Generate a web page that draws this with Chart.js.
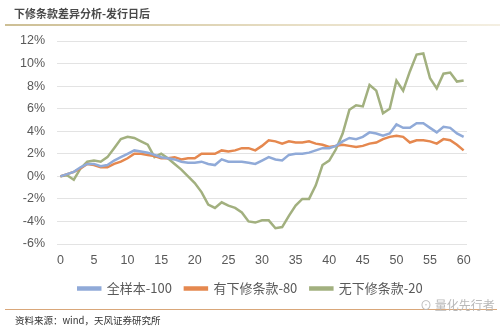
<!DOCTYPE html>
<html>
<head>
<meta charset="utf-8">
<script src="https://cdn.jsdelivr.net/npm/chart.js@4"></script>
<style>
  body { margin: 0; background: #fff; font-family: "Noto Sans CJK SC", sans-serif; }
  #wrap { position: relative; width: 500px; height: 328px; overflow: hidden; }
  #title { position: absolute; left: 14px; top: 5px; font-size: 11px; font-weight: bold; color: #4a4a4a; }
  #titleLine { position: absolute; left: 5px; top: 24px; width: 495px; height: 2px;
    background: linear-gradient(to right, #cdbf95, #e8dfc6 60%, #f4efe2); }
  #foot { position: absolute; left: 5px; top: 309px; width: 492px; height: 1px; background: #d9a77a; }
  #src { position: absolute; left: 15px; top: 313px; font-size: 9.5px; color: #333; }
  #mark { position: absolute; left: 420px; top: 296px; font-size: 12px; color: #b9b9b9; }
  canvas { position: absolute; left: 0; top: 0; }
</style>
</head>
<body>
<div id="wrap">
  <canvas id="chart" width="500" height="328"></canvas>
  <div id="title">下修条款差异分析-发行日后</div>
  <div id="titleLine"></div>
  <div id="foot"></div>
  <div id="mark">&#x2299; 量化先行者</div>
  <div id="src">资料来源：wind，天风证券研究所</div>
</div>
<script>
// dati (%)
const days = Array.from({ length: 61 }, (_, i) => i);

const fullSample = [0, 0.2, 0.4, 0.8, 1.1, 1.1, 0.9, 1.0, 1.4, 1.7,
  2.0, 2.3, 2.2, 2.1, 1.9, 1.7, 1.6, 1.5, 1.3, 1.2,
  1.2, 1.3, 1.1, 1.0, 1.5, 1.3, 1.3, 1.3, 1.2, 1.1,
  1.4, 1.7, 1.5, 1.4, 1.9, 2.0, 2.0, 2.1, 2.3, 2.5,
  2.5, 2.7, 3.1, 3.4, 3.3, 3.5, 3.9, 3.8, 3.6, 3.8,
  4.6, 4.3, 4.3, 4.7, 4.7, 4.3, 3.9, 4.4, 4.3, 3.8, 3.5];

const withReset = [0, 0.2, 0.4, 0.7, 1.1, 1.0, 0.8, 0.8, 1.1, 1.3,
  1.6, 2.0, 2.0, 1.9, 1.8, 1.6, 1.6, 1.7, 1.5, 1.6,
  1.6, 2.0, 2.0, 2.0, 2.3, 2.2, 2.3, 2.5, 2.5, 2.3,
  2.7, 3.2, 3.1, 2.9, 3.1, 3.0, 3.0, 3.1, 2.9, 2.8,
  2.6, 2.7, 2.8, 2.7, 2.6, 2.7, 2.9, 3.0, 3.3, 3.5,
  3.6, 3.5, 3.0, 3.2, 3.2, 3.1, 2.9, 3.3, 3.2, 2.8, 2.3];

const noReset = [0, 0.1, -0.3, 0.7, 1.3, 1.4, 1.3, 1.7, 2.5, 3.3,
  3.5, 3.4, 3.1, 2.8, 1.7, 2.0, 1.6, 1.1, 0.6, 0.0,
  -0.6, -1.4, -2.5, -2.8, -2.3, -2.6, -2.8, -3.2, -4.0, -4.1,
  -3.9, -3.9, -4.6, -4.5, -3.5, -2.6, -2.0, -2.0, -0.8, 1.0,
  1.4, 2.4, 3.8, 5.9, 6.3, 6.2, 8.1, 7.6, 5.6, 6.0,
  8.5, 7.6, 9.3, 10.8, 10.9, 8.7, 7.8, 9.1, 9.2, 8.4, 8.5];

const seriesNames = ['全样本-100', '有下修条款-80', '无下修条款-20'];
const seriesColors = ['#90aad8', '#e5884f', '#a2b07f'];

function line(name, data, color) {
    return {
        label: name,
        data: data,
        borderColor: color,
        backgroundColor: color,
        borderWidth: 2.5,
        pointRadius: 0,
        tension: 0,
        fill: false
    };
}

// sposta la legenda un po' a destra, come nell'originale
const legendShift = {
    id: 'legendShift',
    afterLayout(chart) {
        chart.legend.left += 17;
        chart.legend.right += 17;
    }
};

const ctx = document.getElementById('chart').getContext('2d');
new Chart(ctx, {
    type: 'line',
    data: {
        labels: days,
        datasets: [
            line(seriesNames[0], fullSample, seriesColors[0]),
            line(seriesNames[1], withReset, seriesColors[1]),
            line(seriesNames[2], noReset, seriesColors[2])
        ]
    },
    options: {
        responsive: false,
        animation: false,
        layout: { padding: { top: 41, left: 0, right: 33, bottom: 23 } },
        plugins: {
            tooltip: { enabled: false },
            legend: {
                position: 'bottom',
                labels: {
                    boxWidth: 22,
                    boxHeight: 2,
                    padding: 13,
                    color: '#595959',
                    font: { size: 13, family: '"Noto Sans CJK SC", sans-serif' }
                }
            }
        },
        scales: {
            x: {
                type: 'category',
                offset: true,
                grid: { display: false },
                border: { display: false },
                ticks: {
                    autoSkip: false,
                    maxRotation: 0,
                    padding: 1,
                    color: '#595959',
                    font: { size: 12.5, family: '"Liberation Sans", sans-serif' },
                    callback: function (v, i) { return i % 5 === 0 ? String(days[i]) : ''; }
                },
                afterFit: function (s) { s.height = 25; }
            },
            y: {
                min: -6,
                max: 12,
                grid: { color: '#e3e3e3', drawTicks: false },
                border: { display: false },
                ticks: {
                    stepSize: 2,
                    padding: 12,
                    color: '#595959',
                    font: { size: 12.5, family: '"Liberation Sans", sans-serif' },
                    callback: function (v) { return v + '%'; }
                },
                afterFit: function (s) { s.width = 57; }
            }
        }
    },
    plugins: [legendShift]
});
</script>
</body>
</html>
